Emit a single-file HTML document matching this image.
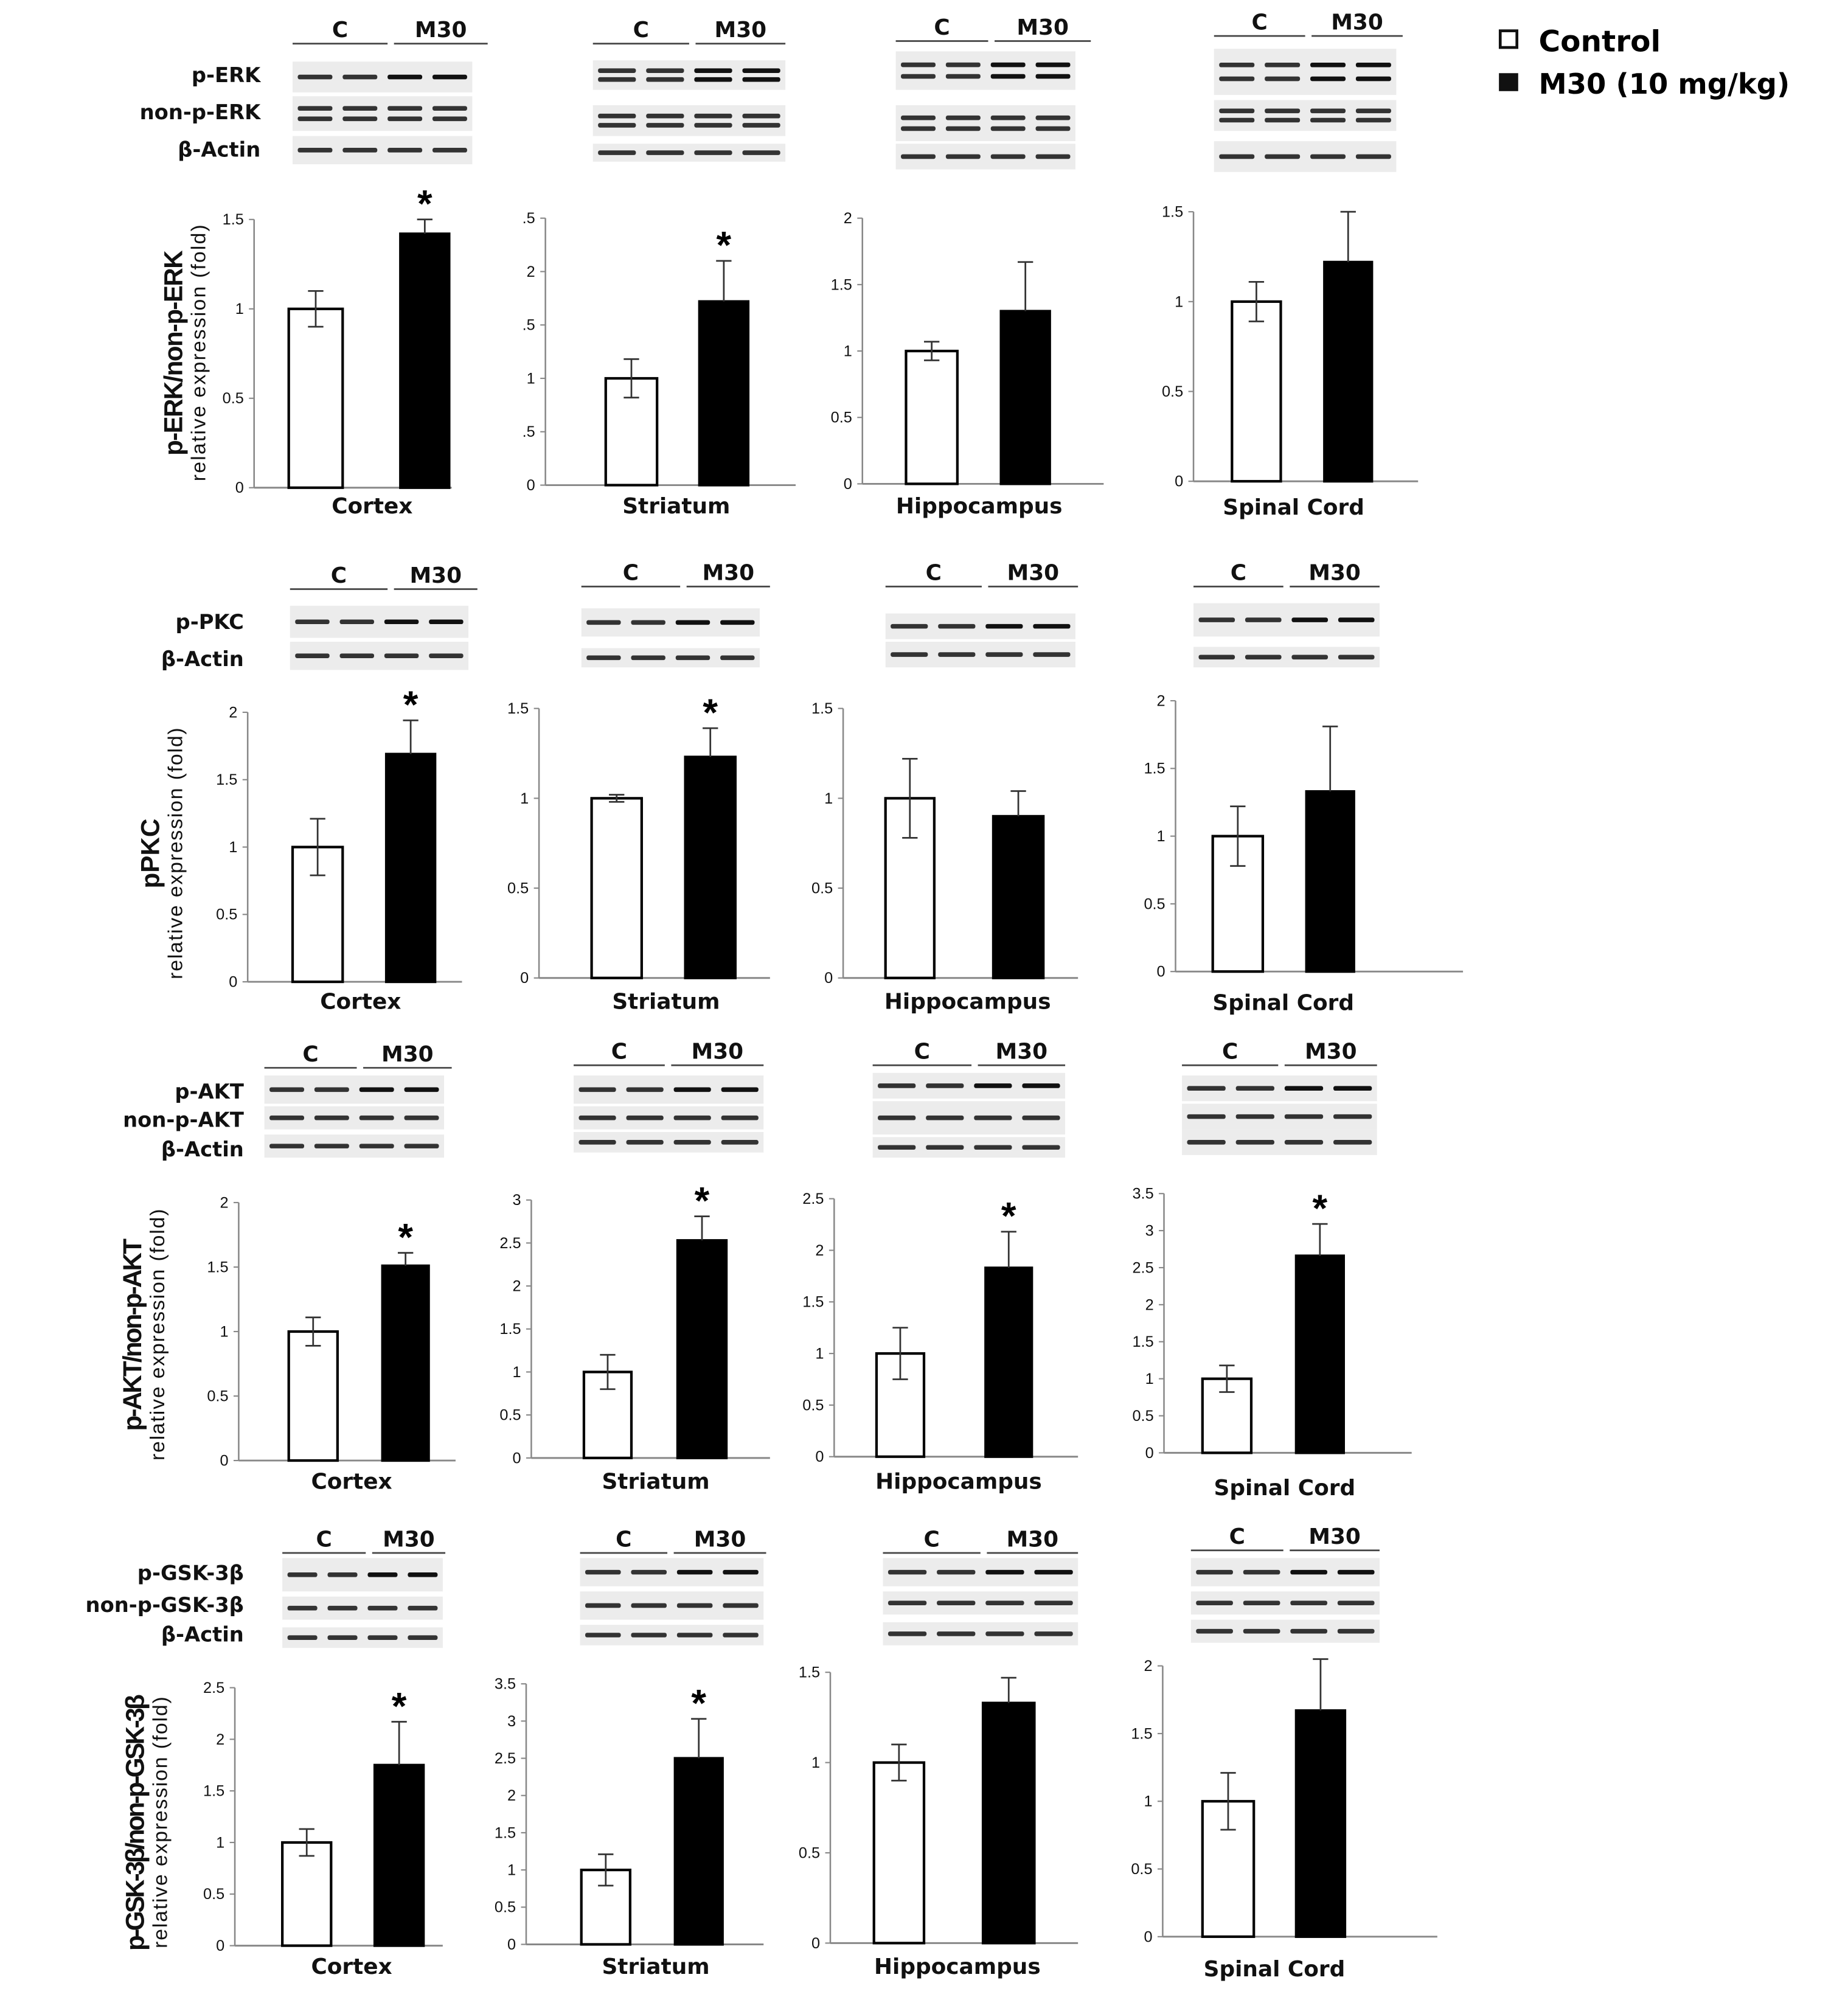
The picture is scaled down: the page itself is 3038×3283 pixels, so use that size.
<!DOCTYPE html>
<html><head><meta charset="utf-8"><style>
html,body{margin:0;padding:0;background:#fff;}
svg{display:block;}
text{font-family:"DejaVu Sans","Liberation Sans",sans-serif;}
.tick{font-family:"Liberation Sans",sans-serif;font-size:12px;fill:#111;}
.reg{font-size:17px;font-weight:bold;fill:#111;}
.blab{font-size:16px;font-weight:bold;fill:#111;}
.hdr{font-size:17px;font-weight:bold;fill:#111;}
.yt{font-family:"Liberation Sans",sans-serif;font-weight:bold;fill:#111;}
</style></head><body>
<svg id="fig" width="3038" height="3283" viewBox="0 0 1440 1556" preserveAspectRatio="none" xmlns="http://www.w3.org/2000/svg">
<g>
<rect x="1169" y="24" width="13" height="13" fill="#fff" stroke="#111" stroke-width="2.2"/>
<text x="1199" y="40" style="font-size:23px;font-weight:bold">Control</text>
<rect x="1168" y="57" width="15" height="14" fill="#111"/>
<text x="1199" y="73" style="font-size:22px;font-weight:bold">M30 (10 mg/kg)</text>
</g>
</svg>
<script>
// ---- data ----
const regions = ["Cortex","Striatum","Hippocampus","Spinal Cord"];
const erkControl = [1.0,1.0,1.0,1.0];
const erkM30 = [1.42,1.72,1.30,1.22];
const erkControlErr = [0.10,0.18,0.07,0.11];
const erkM30Err = [0.08,0.38,0.37,0.28];
const erkSig = [true,true,false,false];
const pkcControl = [1.0,1.0,1.0,1.0];
const pkcM30 = [1.69,1.23,0.90,1.33];
const pkcControlErr = [0.21,0.02,0.22,0.22];
const pkcM30Err = [0.25,0.16,0.14,0.48];
const pkcSig = [true,true,false,false];
const aktControl = [1.0,1.0,1.0,1.0];
const aktM30 = [1.51,2.53,1.83,2.66];
const aktControlErr = [0.11,0.20,0.25,0.18];
const aktM30Err = [0.10,0.28,0.35,0.43];
const aktSig = [true,true,true,true];
const gskControl = [1.0,1.0,1.0,1.0];
const gskM30 = [1.75,2.50,1.33,1.67];
const gskControlErr = [0.13,0.21,0.10,0.21];
const gskM30Err = [0.42,0.53,0.14,0.38];
const gskSig = [true,true,false,false];
const erkMax = [1.5,2.5,2,1.5];
const pkcMax = [2,1.5,1.5,2];
const aktMax = [2,3,2.5,3.5];
const gskMax = [2.5,3.5,1.5,2];
const erkTickLabels = [["0","0.5","1","1.5"],["0",".5","1",".5","2",".5"],["0","0.5","1","1.5","2"],["0","0.5","1","1.5"]];

const svg = document.getElementById('fig');
const NS = "http://www.w3.org/2000/svg";
function mk(tag, attrs, parent){
  const e = document.createElementNS(NS, tag);
  for (const k in attrs) e.setAttribute(k, attrs[k]);
  (parent||svg).appendChild(e); return e;
}
function fmt(v){ return String(Math.round(v*10)/10); }

const layouts = [
 [[198,380,171,352,225,267,312,350,290,400],[425,378,170,620,472,512,545,583,527,400],[672,377,170,860,706,746,780,818,763,400],[930,375,165,1105,960,998,1032,1069,1008,401]],
 [[193,765,555,360,228,267,301,339,281,786],[420,762,552,600,461,500,534,573,519,786],[657,762,552,840,690,728,774,813,754,786],[916,757,546,1140,945,984,1018,1055,1000,787]],
 [[186,1138,937,355,225,263,298,334,274,1160],[414,1136,935,600,455,492,528,566,511,1160],[650,1135,934,840,683,720,768,804,747,1160],[907,1132,930,1100,937,975,1010,1047,1001,1165]],
 [[183,1516,1315,345,220,258,292,330,274,1538],[410,1515,1312,595,453,491,526,563,511,1538],[647,1514,1303,840,681,720,766,806,746,1538],[906,1509,1298,1120,937,977,1010,1048,993,1540]]
];
const rows = [
 {n:"erk",c:erkControl,m:erkM30,ce:erkControlErr,me:erkM30Err,s:erkSig,mx:erkMax},
 {n:"pkc",c:pkcControl,m:pkcM30,ce:pkcControlErr,me:pkcM30Err,s:pkcSig,mx:pkcMax},
 {n:"akt",c:aktControl,m:aktM30,ce:aktControlErr,me:aktM30Err,s:aktSig,mx:aktMax},
 {n:"gsk",c:gskControl,m:gskM30,ce:gskControlErr,me:gskM30Err,s:gskSig,mx:gskMax}
];

rows.forEach((r,ri)=>{
  for(let p=0;p<4;p++){
    const L = layouts[ri][p];
    const [ax,y0,yt,aend,c0,c1,m0,m1,lx,ly] = L;
    const maxV = r.mx[p];
    const yS = v => y0 - (v/maxV)*(y0-yt);
    const g = mk('g',{});
    
    
    const ya = mk('line',{x1:ax,y1:yt,x2:ax,y2:y0,stroke:'#888','stroke-width':1.2},g);
    
    
    const xa = mk('line',{x1:ax,y1:y0,x2:aend,y2:y0,stroke:'#888','stroke-width':1.4},g);
    
    
    const n = Math.round(maxV/0.5);
    for(let i=0;i<=n;i++){
      const v=i*0.5, y=yS(v);
      mk('line',{x1:ax-4,y1:y,x2:ax,y2:y,stroke:'#888','stroke-width':1},g);
      const lab = (ri===0 && p===1) ? erkTickLabels[1][i] : fmt(v);
      const t = mk('text',{x:ax-8,y:y+4,'text-anchor':'end',class:'tick'},g);
      t.textContent = lab;
      
      
    }
    const bars = [[c0,c1,r.c[p],r.ce[p],'#fff','control'],[m0,m1,r.m[p],r.me[p],'#000','m30']];
    bars.forEach(b=>{
      const [x0,x1,v,e,fill,nm]=b;
      const rc = mk('rect',{x:x0,y:yS(v),width:x1-x0,height:y0-yS(v),fill:fill,stroke:'#000','stroke-width':2},g);
      
      
      const cx=(x0+x1)/2;
      const low = nm==='m30' ? v : v-e;
      let d = `M${cx},${yS(low)}V${yS(v+e)}M${cx-6},${yS(v+e)}H${cx+6}`;
      if(nm!=='m30') d += `M${cx-6},${yS(v-e)}H${cx+6}`;
      const eb = mk('path',{d:d,stroke:'#333','stroke-width':1.3,fill:'none'},g);
      
      
    });
    if(r.s[p]){
      const cx=(m0+m1)/2;
      const st = mk('text',{x:cx,y:yS(r.m[p]+r.me[p])-2,'text-anchor':'middle',style:'font-size:30px;font-weight:bold;font-family:"Liberation Sans",sans-serif'},g);
      st.textContent='*';
      
      
    }
    const rl = mk('text',{x:lx,y:ly,'text-anchor':'middle',class:'reg'},g);
    rl.textContent = regions[p];
    
    
  }
});

const ytitles = [
 [142,275,"p-ERK/non-p-ERK",160,"relative expression (fold)",200],
 [124,665,"pPKC",0,"relative expression (fold)",196],
 [110,1040,"p-AKT/non-p-AKT",150,"relative expression (fold)",196],
 [112,1420,"p-GSK-3β/non-p-GSK-3β",200,"relative expression (fold)",196]
];
ytitles.forEach((t,i)=>{
  const g = mk('g',{transform:`translate(${t[0]},${t[1]}) rotate(-90)`});
  
  
  const a = mk('text',{x:0,y:0,'text-anchor':'middle',class:'yt',style:'font-size:20px'},g);
  a.textContent=t[2]; if(t[3]) a.setAttribute('textLength',t[3]);
  const b = mk('text',{x:0,y:18,'text-anchor':'middle',class:'yt',style:'font-size:16px;font-weight:normal'},g);
  b.textContent=t[4]; b.setAttribute('textLength',t[5]);
});

const blots = [
 [[228,302,380,34,368,[[48,24],[75,27],[106,22]]],[462,537,612,34,612,[[47,23],[82,24],[112,14]]],[698,770,850,32,838,[[40,30],[82,28],[112,20]]],[946,1017,1093,28,1088,[[38,36],[78,24],[110,24]]]],
 [[226,302,372,459,365,[[472,25],[500,22]]],[453,530,600,457,592,[[474,22],[505,15]]],[690,765,840,457,838,[[478,20],[500,20]]],[930,1000,1075,457,1075,[[470,26],[504,16]]]],
 [[206,278,352,832,346,[[838,22],[862,18],[884,18]]],[447,518,595,830,595,[[838,22],[862,18],[882,16]]],[680,757,830,830,830,[[836,20],[858,26],[886,16]]],[921,996,1073,830,1073,[[838,20],[860,20],[880,20]]]],
 [[220,285,347,1210,345,[[1214,26],[1244,18],[1268,16]]],[452,520,597,1210,595,[[1214,22],[1240,22],[1266,16]]],[688,764,840,1210,840,[[1214,22],[1240,18],[1264,18]]],[928,1000,1075,1208,1075,[[1214,22],[1240,18],[1262,18]]]]
];
const blotLabels = [
 [203,[["p-ERK",64],["non-p-ERK",93],["β-Actin",122]]],
 [190,[["p-PKC",490],["β-Actin",519]]],
 [190,[["p-AKT",856],["non-p-AKT",878],["β-Actin",901]]],
 [190,[["p-GSK-3β",1231],["non-p-GSK-3β",1256],["β-Actin",1279]]]
];
blotLabels.forEach(bl=>{
  bl[1].forEach(l=>{
    const t = mk('text',{x:bl[0],y:l[1],'text-anchor':'end',class:'blab'});
    t.textContent=l[0];
    
    
  });
});
blots.forEach((row,ri)=>{
  row.forEach(b=>{
    const [cs,ce,me,hy,se,strips]=b;
    const g = mk('g',{});
    
    
    mk('line',{x1:cs,y1:hy,x2:ce,y2:hy,stroke:'#444','stroke-width':1.3},g);
    mk('line',{x1:ce+5,y1:hy,x2:me,y2:hy,stroke:'#444','stroke-width':1.3},g);
    const tc = mk('text',{x:(cs+ce)/2,y:hy-5,'text-anchor':'middle',class:'hdr'},g);
    tc.textContent='C';
    const tm = mk('text',{x:(ce+5+me)/2,y:hy-5,'text-anchor':'middle',class:'hdr'},g);
    tm.textContent='M30';
    const lw=(se-cs)/4;
    strips.forEach((s,si)=>{
      mk('rect',{x:cs,y:s[0],width:se-cs,height:s[1],fill:'#ececec'},g);
      const nb = (ri===0 && si===1) || (ri===0 && si===0 && row.indexOf(b)>0) ? 2 : 1;
      for(let k=0;k<4;k++){
        for(let q=0;q<nb;q++){
          const yy = s[0]+s[1]*(nb===2?(0.35+0.3*q):0.5);
          mk('rect',{x:cs+k*lw+4,y:yy-1.8,width:lw-8,height:3.6,fill:k>=2&&si===0?'#111':'#333',rx:1.5},g);
        }
      }
    });
  });
});
</script>
</body></html>
